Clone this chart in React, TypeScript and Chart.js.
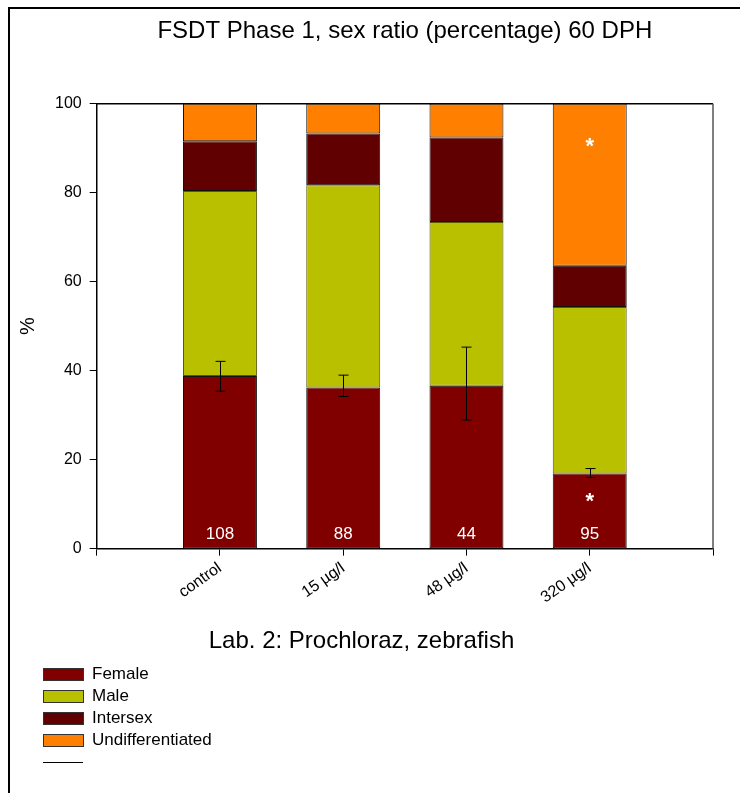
import { useEffect, useRef } from 'react';
import { Chart, registerables } from 'chart.js';

Chart.register(...registerables);

// empty slots at both ends keep the axis running from 0 to 5
const categories = ['', 'control', '15 µg/l', '48 µg/l', '320 µg/l', ''];

const female = [null, 38.8, 36.2, 36.6, 16.9, null];
const male = [null, 41.6, 45.5, 36.8, 37.4, null];
const intersex = [null, 11.2, 11.6, 19.0, 9.3, null];
const undifferentiated = [null, 8.4, 6.7, 7.6, 36.4, null];

// error bar on the female share
const femaleLow = [null, 35.4, 34.2, 28.9, 16.0, null];
const femaleHigh = [null, 42.1, 39.0, 45.3, 18.0, null];

// number of fish per group
const sampleSizes = [null, '108', '88', '44', '95', null];

// significance stars, at the level (in %) where they are printed
const femaleStars = [null, null, null, null, 11.6, null];
const undiffStars = [null, null, null, null, 91.5, null];

const yTicks = [0, 20, 40, 60, 80, 100];

const FONT = "'Liberation Sans', Arial, sans-serif";

const framePlugin = {
    id: 'frame',
    beforeDatasetsDraw(chart: any) {
        const { ctx, chartArea } = chart;
        ctx.save();
        ctx.lineWidth = 1.5;
        ctx.strokeStyle = '#000';
        ctx.beginPath();
        ctx.moveTo(chartArea.left, chartArea.top);
        ctx.lineTo(chartArea.right, chartArea.top);
        ctx.stroke();
        ctx.strokeStyle = '#555';
        ctx.beginPath();
        ctx.moveTo(chartArea.right, chartArea.top);
        ctx.lineTo(chartArea.right, chartArea.bottom);
        ctx.stroke();
        ctx.restore();
    },
};

const annotationsPlugin = {
    id: 'annotations',
    afterDatasetsDraw(chart: any) {
        const { ctx, scales } = chart;
        const x = scales.x;
        const y = scales.y;
        ctx.save();

        // error bars
        ctx.strokeStyle = '#000';
        ctx.lineWidth = 1;
        femaleLow.forEach((lo, i) => {
            const hi = femaleHigh[i];
            if (lo == null || hi == null) return;
            const cx = Math.round(x.getPixelForValue(i)) + 0.5;
            const yl = y.getPixelForValue(lo);
            const yh = y.getPixelForValue(hi);
            ctx.beginPath();
            ctx.moveTo(cx, yl);
            ctx.lineTo(cx, yh);
            ctx.moveTo(cx - 5, yl);
            ctx.lineTo(cx + 5, yl);
            ctx.moveTo(cx - 5, yh);
            ctx.lineTo(cx + 5, yh);
            ctx.stroke();
        });

        // sample sizes at the foot of each bar
        ctx.fillStyle = '#fff';
        ctx.textAlign = 'center';
        ctx.textBaseline = 'middle';
        ctx.font = `17px ${FONT}`;
        sampleSizes.forEach((n, i) => {
            if (!n) return;
            ctx.fillText(n, x.getPixelForValue(i), y.getPixelForValue(0) - 14);
        });

        // stars
        ctx.font = `bold 22px ${FONT}`;
        [femaleStars, undiffStars].forEach((stars) => {
            stars.forEach((level, i) => {
                if (level == null) return;
                ctx.fillText('*', x.getPixelForValue(i), y.getPixelForValue(level) + 5);
            });
        });
        ctx.restore();
    },
};

const legendPlugin = {
    id: 'sideLegend',
    afterDraw(chart: any) {
        const { ctx } = chart;
        const left = 43;
        const top = 674;
        const step = 22;
        ctx.save();
        ctx.font = `17px ${FONT}`;
        ctx.textBaseline = 'middle';
        ctx.textAlign = 'left';
        chart.data.datasets.forEach((ds: any, i: number) => {
            const cy = top + i * step;
            ctx.fillStyle = ds.backgroundColor;
            ctx.fillRect(left, cy - 6, 40, 12);
            ctx.strokeStyle = '#333';
            ctx.lineWidth = 1;
            ctx.strokeRect(left + 0.5, cy - 5.5, 40, 12);
            ctx.fillStyle = '#000';
            ctx.fillText(ds.label, left + 49, cy);
        });
        // the error bar entry has a line and no label
        const ly = top + chart.data.datasets.length * step + 0.5;
        ctx.strokeStyle = '#000';
        ctx.beginPath();
        ctx.moveTo(left, ly);
        ctx.lineTo(left + 40, ly);
        ctx.stroke();
        ctx.restore();
    },
};

const SexRatioChart = () => {
    const canvasRef = useRef<HTMLCanvasElement | null>(null);
    const chartRef = useRef<Chart<'bar'> | null>(null);

    useEffect(() => {
        if (!canvasRef.current) return;
        const ctx = canvasRef.current.getContext('2d');
        if (!ctx) return;
        if (chartRef.current) chartRef.current.destroy();

        const seg = (label: string, data: (number | null)[], color: string, border: string) => ({
            label,
            data,
            backgroundColor: color,
            borderColor: border,
            borderWidth: 1,
            borderSkipped: false as const,
            barPercentage: 0.6,
            categoryPercentage: 1,
        });

        chartRef.current = new Chart(ctx, {
            type: 'bar',
            data: {
                labels: categories,
                datasets: [
                    seg('Female', female, '#800000', '#111'),
                    seg('Male', male, '#b8c000', '#5a5a00'),
                    seg('Intersex', intersex, '#600000', '#111'),
                    seg('Undifferentiated', undifferentiated, '#ff8000', '#111'),
                ],
            },
            options: {
                responsive: false,
                animation: false,
                layout: { padding: { left: 10, right: 27, top: 0, bottom: 127 } },
                scales: {
                    x: {
                        stacked: true,
                        offset: false,
                        border: { color: '#000', width: 1.5 },
                        grid: {
                            offset: false,
                            drawOnChartArea: false,
                            drawTicks: true,
                            tickLength: 7,
                            color: '#000',
                        },
                        ticks: {
                            autoSkip: false,
                            minRotation: 35,
                            maxRotation: 35,
                            padding: 3,
                            color: '#000',
                            font: { family: FONT, size: 16 },
                        },
                    },
                    y: {
                        stacked: true,
                        min: 0,
                        max: 100,
                        afterBuildTicks: (axis: any) => {
                            axis.ticks = yTicks.map((v) => ({ value: v }));
                        },
                        border: { color: '#000', width: 1.5 },
                        grid: {
                            drawOnChartArea: false,
                            drawTicks: true,
                            tickLength: 7,
                            color: '#000',
                        },
                        ticks: {
                            padding: 8,
                            color: '#000',
                            font: { family: FONT, size: 16 },
                        },
                        title: {
                            display: true,
                            text: '%',
                            color: '#000',
                            font: { family: FONT, size: 20 },
                            padding: { top: 6, bottom: 7 },
                        },
                    },
                },
                plugins: {
                    legend: { display: false },
                    tooltip: { enabled: false },
                    title: {
                        display: true,
                        text: 'FSDT Phase 1, sex ratio (percentage) 60 DPH',
                        fullSize: false,
                        color: '#000',
                        font: { family: FONT, size: 24, weight: 'normal' },
                        padding: { top: 17, bottom: 58 },
                    },
                    subtitle: {
                        display: true,
                        position: 'bottom',
                        text: 'Lab. 2: Prochloraz, zebrafish',
                        color: '#000',
                        font: { family: FONT, size: 24, weight: 'normal' },
                        padding: { top: 17, bottom: 10 },
                    },
                },
            },
            plugins: [framePlugin, annotationsPlugin, legendPlugin],
        });

        return () => {
            if (chartRef.current) {
                chartRef.current.destroy();
                chartRef.current = null;
            }
        };
    }, []);

    return <canvas ref={canvasRef} width={740} height={793} />;
};

export default function App() {
    return (
        <div style={{ position: 'absolute', left: 0, top: 0, width: 740, height: 793, background: '#fff', overflow: 'hidden' }}>
            <div
                style={{
                    position: 'absolute',
                    left: 8,
                    top: 7,
                    right: -10,
                    bottom: -10,
                    borderTop: '2px solid #000',
                    borderLeft: '2px solid #000',
                    pointerEvents: 'none',
                }}
            />
            <div style={{ position: 'absolute', left: 0, top: 0 }}>
                <SexRatioChart />
            </div>
        </div>
    );
}
